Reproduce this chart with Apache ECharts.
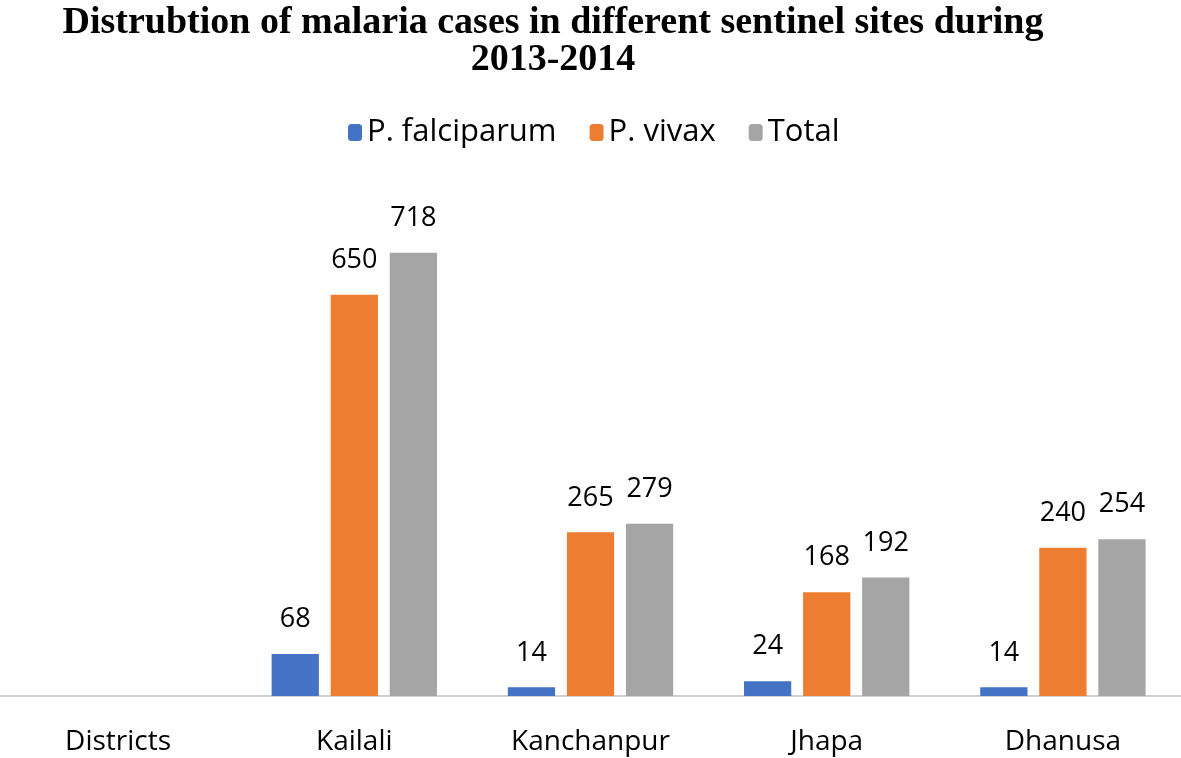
<!DOCTYPE html>
<html><head><meta charset="utf-8">
<script src="https://cdn.jsdelivr.net/npm/echarts@6/dist/echarts.min.js"></script>
<style>html,body{margin:0;padding:0;background:#fff}#c{width:1181px;height:758px}</style>
</head><body><div id="c"></div>
<script>
const categories = ['Districts', 'Kailali', 'Kanchanpur', 'Jhapa', 'Dhanusa'];
const falciparum = [null, 68, 14, 24, 14];
const vivax = [null, 650, 265, 168, 240];
const total = [null, 718, 279, 192, 254];
const seriesNames = ['P. falciparum', 'P. vivax', 'Total'];
const colors = ['#4472C4', '#ED7D31', '#A5A5A5'];

const chart = echarts.init(document.getElementById('c'));
const font = '"Open Sans", "Noto Sans", sans-serif';
const mk = (name, data, color) => ({
  name, type: 'bar', data,
  itemStyle: { color },
  barGap: '25%', barCategoryGap: '30%',
  label: { show: true, position: 'top', distance: 21, color: '#000', fontSize: 27, fontFamily: font }
});
chart.setOption({
  animation: false,
  title: {
    text: 'Distrubtion of malaria cases in different sentinel sites during\n2013-2014',
    left: 548, textAlign: 'center', top: 0,
    textStyle: { fontFamily: '"Liberation Serif", "Times New Roman", serif', fontWeight: 'bold', fontSize: 38, color: '#000', lineHeight: 37 }
  },
  legend: {
    top: 112, left: 343, itemWidth: 14, itemHeight: 17, itemGap: 33,
    textStyle: { fontFamily: font, fontSize: 31, color: '#000' },
    data: seriesNames
  },
  grid: { left: 0, right: 0, top: 202, bottom: 62 },
  xAxis: {
    type: 'category', data: categories,
    axisLine: { lineStyle: { color: '#BFBFBF', width: 1.5 } },
    axisTick: { show: false },
    axisLabel: { color: '#000', fontSize: 28, fontFamily: font, margin: 32 }
  },
  yAxis: { type: 'value', min: 0, max: 800, show: false, splitLine: { show: false } },
  series: [mk(seriesNames[0], falciparum, colors[0]), mk(seriesNames[1], vivax, colors[1]), mk(seriesNames[2], total, colors[2])]
});
</script></body></html>
